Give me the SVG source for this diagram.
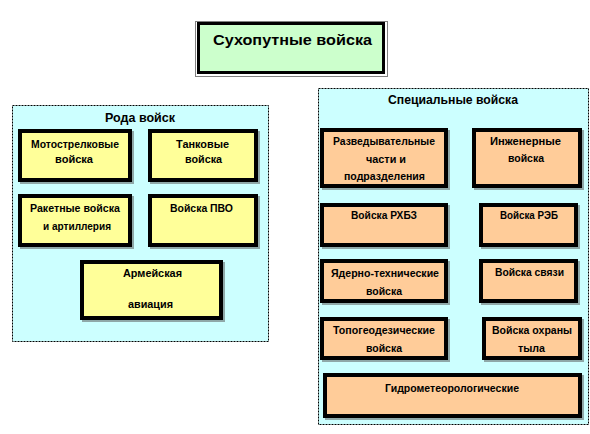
<svg xmlns="http://www.w3.org/2000/svg" width="590" height="434" viewBox="0 0 590 434">
<style>
  .bg{fill:#ffffff}
  .cont{fill:#ccffff;stroke:#000;stroke-width:1;stroke-dasharray:2,1}
  .y{fill:#ffff99;stroke:#000;stroke-width:4}
  .o{fill:#ffcc99;stroke:#000;stroke-width:4}
  .sh{fill:#8fa8a8}
  .t{font-family:"Liberation Sans",Arial,sans-serif;font-weight:bold;font-size:11px;fill:#000;text-anchor:middle}
  .ct{font-family:"Liberation Sans",Arial,sans-serif;font-weight:bold;font-size:12px;fill:#000;text-anchor:middle}
  .tt{font-family:"Liberation Sans",Arial,sans-serif;font-weight:bold;font-size:14px;fill:#000;text-anchor:middle}
</style>
<rect class="bg" x="0" y="0" width="590" height="434"/>

<g id="title">
  <rect x="195.5" y="21.5" width="192" height="55" fill="none" stroke="#000" stroke-width="1" stroke-dasharray="1,1"/>
  <rect x="198.5" y="23.5" width="185" height="49" fill="#ccffcc" stroke="#000" stroke-width="3"/>
  <text class="tt" x="292.5" y="45" textLength="159" lengthAdjust="spacingAndGlyphs">Сухопутные  войска</text>
</g>

<g id="roda">
  <rect class="cont" x="12.5" y="105.5" width="256" height="236"/>
  <text class="ct" x="140" y="122" textLength="70" lengthAdjust="spacingAndGlyphs">Рода войск</text>
</g>

<g id="special">
  <rect class="cont" x="318.5" y="88.5" width="270" height="336"/>
  <text class="ct" x="453" y="104" textLength="130" lengthAdjust="spacingAndGlyphs">Специальные войска</text>
</g>

<g id="n-motostrelk">
  <rect class="sh" x="20" y="131" width="114" height="53"/>
  <rect class="y" x="20" y="131" width="110" height="49"/>
  <text class="t" x="75" y="148" textLength="88" lengthAdjust="spacingAndGlyphs">Мотострелковые</text>
  <text class="t" x="74" y="163" textLength="38" lengthAdjust="spacingAndGlyphs">войска</text>
</g>
<g id="n-tank">
  <rect class="sh" x="150" y="131" width="110" height="53"/>
  <rect class="y" x="150" y="131" width="106" height="49"/>
  <text class="t" x="202.5" y="148" textLength="53" lengthAdjust="spacingAndGlyphs">Танковые</text>
  <text class="t" x="203.5" y="163" textLength="37" lengthAdjust="spacingAndGlyphs">войска</text>
</g>
<g id="n-raket">
  <rect class="sh" x="20" y="196" width="114" height="53"/>
  <rect class="y" x="20" y="196" width="110" height="49"/>
  <text class="t" x="75" y="212" textLength="90" lengthAdjust="spacingAndGlyphs">Ракетные войска</text>
  <text class="t" x="77" y="230" textLength="68" lengthAdjust="spacingAndGlyphs">и артиллерия</text>
</g>
<g id="n-pvo">
  <rect class="sh" x="150" y="196" width="110" height="53"/>
  <rect class="y" x="150" y="196" width="106" height="49"/>
  <text class="t" x="201.5" y="212" textLength="63" lengthAdjust="spacingAndGlyphs">Войска ПВО</text>
</g>
<g id="n-avia">
  <rect class="sh" x="82" y="262" width="143" height="60"/>
  <rect class="y" x="82" y="262" width="139" height="56"/>
  <text class="t" x="152.5" y="277" textLength="59" lengthAdjust="spacingAndGlyphs">Армейская</text>
  <text class="t" x="150.5" y="308" textLength="45" lengthAdjust="spacingAndGlyphs">авиация</text>
</g>

<g id="r-razved">
  <rect class="sh" x="322" y="130" width="128" height="60"/>
  <rect class="o" x="322" y="130" width="124" height="56"/>
  <text class="t" x="384" y="145" textLength="102" lengthAdjust="spacingAndGlyphs">Разведывательные</text>
  <text class="t" x="386" y="163" textLength="40" lengthAdjust="spacingAndGlyphs">части и</text>
  <text class="t" x="384.5" y="180" textLength="81" lengthAdjust="spacingAndGlyphs">подразделения</text>
</g>
<g id="r-inzh">
  <rect class="sh" x="474" y="130" width="110" height="60"/>
  <rect class="o" x="474" y="130" width="106" height="56"/>
  <text class="t" x="525.5" y="145" textLength="71" lengthAdjust="spacingAndGlyphs">Инженерные</text>
  <text class="t" x="526" y="162" textLength="36" lengthAdjust="spacingAndGlyphs">войска</text>
</g>
<g id="r-rhbz">
  <rect class="sh" x="322" y="205" width="128" height="44"/>
  <rect class="o" x="322" y="205" width="124" height="40"/>
  <text class="t" x="384" y="219" textLength="66" lengthAdjust="spacingAndGlyphs">Войска РХБЗ</text>
</g>
<g id="r-reb">
  <rect class="sh" x="481" y="205" width="99" height="44"/>
  <rect class="o" x="481" y="205" width="95" height="40"/>
  <text class="t" x="529" y="219" textLength="58" lengthAdjust="spacingAndGlyphs">Войска РЭБ</text>
</g>
<g id="r-yadern">
  <rect class="sh" x="322" y="261" width="128" height="44"/>
  <rect class="o" x="322" y="261" width="124" height="40"/>
  <text class="t" x="385" y="277" textLength="108" lengthAdjust="spacingAndGlyphs">Ядерно-технические</text>
  <text class="t" x="384" y="295" textLength="36" lengthAdjust="spacingAndGlyphs">войска</text>
</g>
<g id="r-svyaz">
  <rect class="sh" x="481" y="261" width="99" height="44"/>
  <rect class="o" x="481" y="261" width="95" height="40"/>
  <text class="t" x="529.5" y="276" textLength="69" lengthAdjust="spacingAndGlyphs">Войска связи</text>
</g>
<g id="r-topo">
  <rect class="sh" x="322" y="319" width="128" height="43"/>
  <rect class="o" x="322" y="319" width="124" height="39"/>
  <text class="t" x="384" y="334" textLength="102" lengthAdjust="spacingAndGlyphs">Топогеодезические</text>
  <text class="t" x="384" y="352" textLength="36" lengthAdjust="spacingAndGlyphs">войска</text>
</g>
<g id="r-tyl">
  <rect class="sh" x="484" y="319" width="100" height="43"/>
  <rect class="o" x="484" y="319" width="96" height="39"/>
  <text class="t" x="532" y="334" textLength="80" lengthAdjust="spacingAndGlyphs">Войска охраны</text>
  <text class="t" x="531.5" y="352" textLength="27" lengthAdjust="spacingAndGlyphs">тыла</text>
</g>
<g id="r-gidro">
  <rect class="sh" x="325" y="375" width="259" height="45"/>
  <rect class="o" x="325" y="375" width="255" height="41"/>
  <text class="t" x="452" y="392" textLength="134" lengthAdjust="spacingAndGlyphs">Гидрометеорологические</text>
</g>

<g id="connectors"></g>
</svg>
